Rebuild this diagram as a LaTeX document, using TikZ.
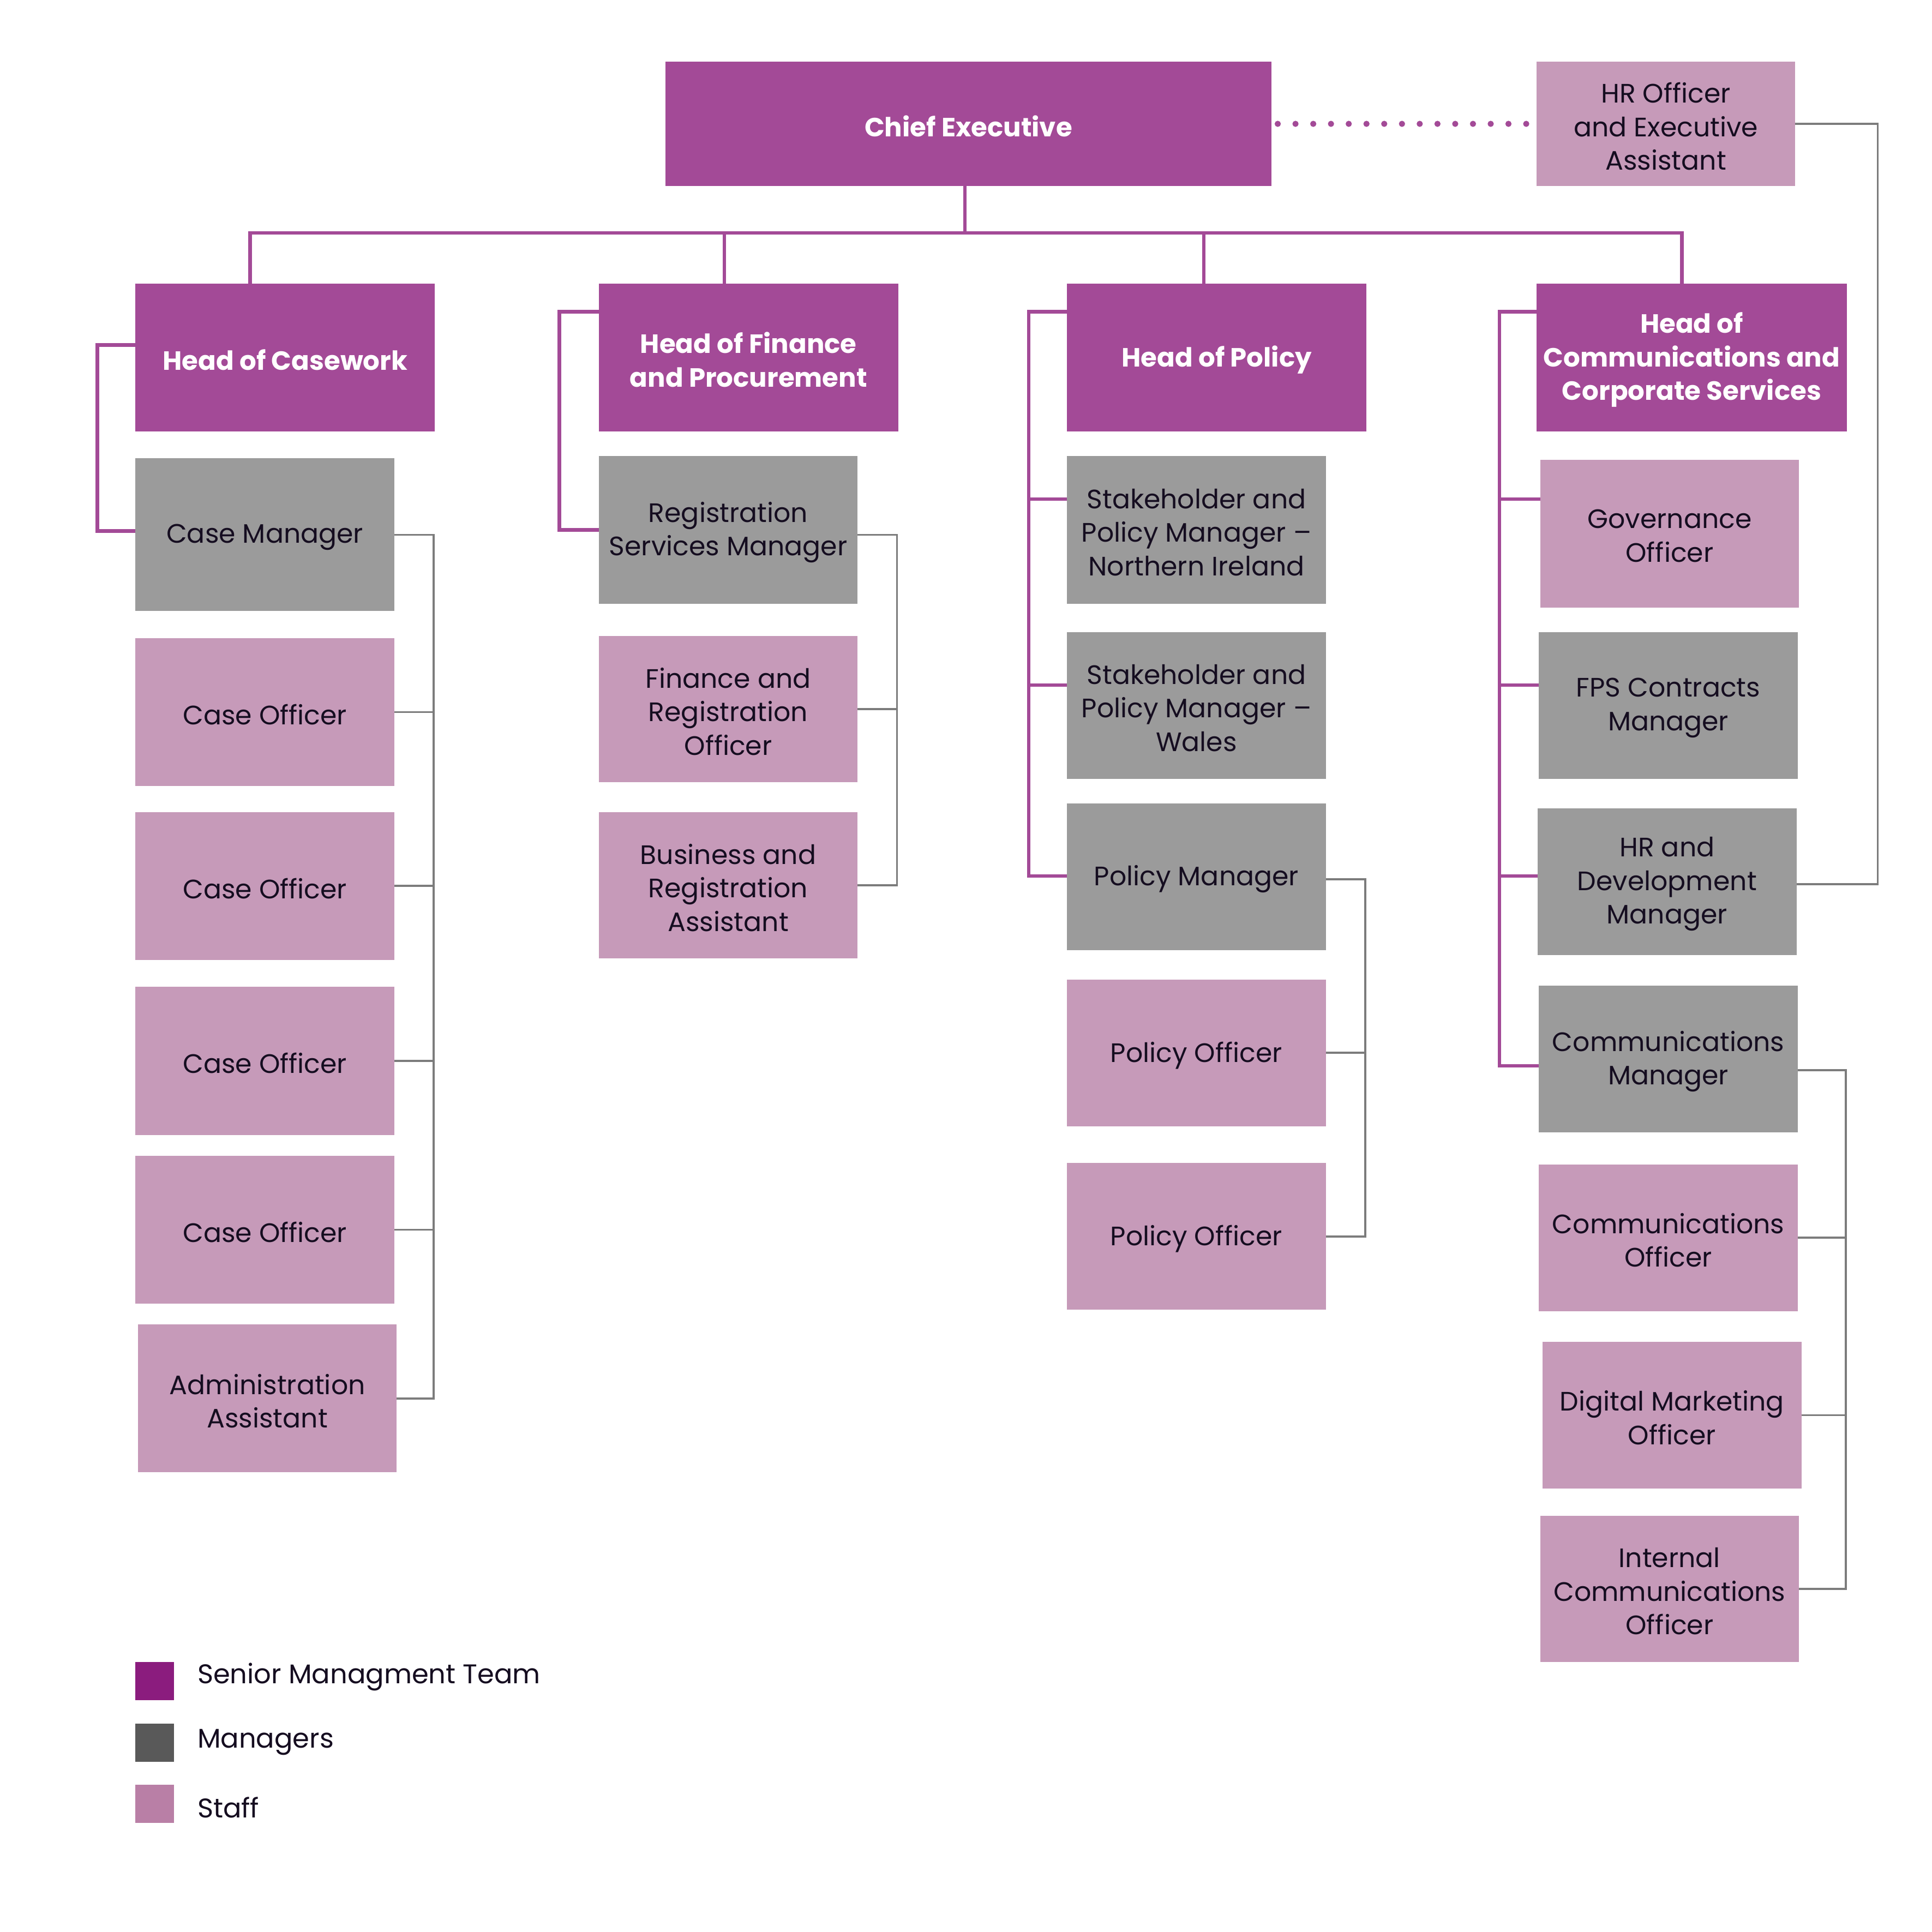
\documentclass[tikz,border=0pt]{standalone}
\usepackage{fontspec}
\setmainfont{Poppins}
\usetikzlibrary{calc}
\definecolor{smtfill}{HTML}{A34A97}
\definecolor{mgrfill}{HTML}{9B9B9B}
\definecolor{stafffill}{HTML}{C69AB9}
\definecolor{txtdark}{HTML}{150D20}
\definecolor{legsmt}{HTML}{8B1C7E}
\definecolor{legmgr}{HTML}{595959}
\definecolor{legstaff}{HTML}{B97FA6}
\definecolor{plinec}{HTML}{A34A97}
\definecolor{glinec}{HTML}{7C7C7C}
\newcommand{\orgbox}[7]{%
  \pgfmathsetmacro{\obcx}{(#3+#5)/2}%
  \pgfmathsetmacro{\obcy}{(#4+#6)/2}%
  \pgfmathsetmacro{\obw}{(#5-#3)*0.025}%
  \pgfmathsetmacro{\obh}{(#6-#4)*0.025}%
  \node[#2, minimum width=\obw cm, minimum height=\obh cm] (#1) at (\obcx,\obcy) {};
  \node[#2txt] (#1t) at ($(#1.center)+(0,2)$) {#7};}
\begin{document}
\begin{tikzpicture}[x=0.025cm,y=-0.025cm,
  basebox/.style={rectangle, inner sep=0pt, outer sep=0pt},
  basetxt/.style={inner sep=0pt, align=center},
  smtbox/.style={basebox, fill=smtfill},
  mgrbox/.style={basebox, fill=mgrfill},
  staffbox/.style={basebox, fill=stafffill},
  smtboxtxt/.style={basetxt, text=white, font=\fontsize{15.2}{19.4}\selectfont\bfseries},
  mgrboxtxt/.style={basetxt, text=txtdark, font=\fontsize{15.4}{19.4}\selectfont},
  staffboxtxt/.style={basetxt, text=txtdark, font=\fontsize{15.4}{19.4}\selectfont},
  pline/.style={draw=plinec, line width=0.07cm},
  gline/.style={draw=glinec, line width=0.04cm},
  dotline/.style={draw=plinec, line width=0.125cm, line cap=round, dash pattern=on 0pt off 0.36cm},
  legsq/.style={rectangle, inner sep=0pt, minimum width=0.775cm, minimum height=0.775cm},
  legtxt/.style={anchor=west, inner sep=0pt, text=txtdark, font=\fontsize{15.6}{19.4}\selectfont}]
\useasboundingbox (0,0) rectangle (1568,1568);
\fill[white] (0,0) rectangle (1568,1568);

% top
\orgbox{ce}{smtbox}{540}{50}{1032}{151}{Chief Executive}
\orgbox{hr}{staffbox}{1247}{50}{1457}{151}{HR Officer\\and Executive\\Assistant}
% heads
\orgbox{hcw}{smtbox}{110}{230}{353}{350}{Head of Casework}
\orgbox{hfin}{smtbox}{486}{230}{729}{350}{Head of Finance\\and Procurement}
\orgbox{hpol}{smtbox}{866}{230}{1109}{350}{Head of Policy}
\orgbox{hcom}{smtbox}{1247}{230}{1499}{350}{Head of\\Communications and\\Corporate Services}
% casework
\orgbox{cm}{mgrbox}{110}{372}{320}{496}{Case Manager}
\orgbox{co1}{staffbox}{110}{518}{320}{638}{Case Officer}
\orgbox{co2}{staffbox}{110}{659}{320}{779}{Case Officer}
\orgbox{co3}{staffbox}{110}{801}{320}{921}{Case Officer}
\orgbox{co4}{staffbox}{110}{938}{320}{1058}{Case Officer}
\orgbox{adm}{staffbox}{112}{1075}{322}{1195}{Administration\\Assistant}
% finance
\orgbox{rsm}{mgrbox}{486}{370}{696}{490}{Registration\\Services Manager}
\orgbox{fro}{staffbox}{486}{516}{696}{635}{Finance and\\Registration\\Officer}
\orgbox{bra}{staffbox}{486}{659}{696}{778}{Business and\\Registration\\Assistant}
% policy
\orgbox{spni}{mgrbox}{866}{370}{1076}{490}{Stakeholder and\\Policy Manager –\\Northern Ireland}
\orgbox{spw}{mgrbox}{866}{513}{1076}{632}{Stakeholder and\\Policy Manager –\\Wales}
\orgbox{pm}{mgrbox}{866}{652}{1076}{771}{Policy Manager}
\orgbox{po1}{staffbox}{866}{795}{1076}{914}{Policy Officer}
\orgbox{po2}{staffbox}{866}{944}{1076}{1063}{Policy Officer}
% comms
\orgbox{gov}{staffbox}{1250}{373}{1460}{493}{Governance\\Officer}
\orgbox{fps}{mgrbox}{1249}{513}{1459}{632}{FPS Contracts\\Manager}
\orgbox{hrd}{mgrbox}{1248}{656}{1458}{775}{HR and\\Development\\Manager}
\orgbox{cmm}{mgrbox}{1249}{800}{1459}{919}{Communications\\Manager}
\orgbox{cmo}{staffbox}{1249}{945}{1459}{1064}{Communications\\Officer}
\orgbox{dmo}{staffbox}{1252}{1089}{1462}{1208}{Digital Marketing\\Officer}
\orgbox{ico}{staffbox}{1250}{1230}{1460}{1349}{Internal\\Communications\\Officer}

% top connectors
\draw[pline] ($(ce.south)+(-3,0)$) -- ++(0,38);
\draw[pline] ($(hcw.north)+(-28.5,0)$) -- ++(0,-41) -| ($(hcom.north)+(-8,0)$);
\draw[pline] ($(hfin.north)+(-19.5,0)$) -- ++(0,-41);
\draw[pline] ($(hpol.north)+(-10.5,0)$) -- ++(0,-41);
\draw[dotline] ($(ce.east)+(5,0)$) -- (hr.west);

% purple side connectors
\draw[pline] ($(hcw.north west)+(0,50)$) -- ++(-31,0) |- ($(cm.west)+(0,-3)$);
\draw[pline] ($(hfin.north west)+(0,23)$) -- ++(-32,0) |- (rsm.west);
\draw[pline] ($(hpol.north west)+(0,23)$) -- ++(-31,0) |- ($(pm.north west)+(0,59)$);
\draw[pline] ($(spni.north west)+(0,35)$) -- ++(-31,0);
\draw[pline] ($(spw.north west)+(0,43)$) -- ++(-31,0);
\draw[pline] ($(hcom.north west)+(0,23)$) -- ++(-30,0) |- ($(cmm.north west)+(0,65)$);
\draw[pline] ($(gov.north west)+(0,32)$) -- ++(-33,0);
\draw[pline] ($(fps.north west)+(0,43)$) -- ++(-32,0);
\draw[pline] ($(hrd.north west)+(0,55)$) -- ++(-31,0);

% grey connectors
\draw[gline] (cm.east) -- ++(32,0) |- (adm.east);
\foreach \n in {co1,co2,co3,co4} \draw[gline] (\n.east) -- ++(32,0);
\draw[gline] ($(rsm.east)+(0,4)$) -- ++(32,0) |- (bra.east);
\draw[gline] (fro.east) -- ++(32,0);
\draw[gline] ($(pm.east)+(0,2)$) -- ++(32,0) |- (po2.east);
\draw[gline] (po1.east) -- ++(32,0);
\draw[gline] ($(cmm.east)+(0,9)$) -- ++(39,0) |- (ico.east);
\draw[gline] (cmo.east) -- ++(39,0);
\draw[gline] (dmo.east) -- ++(36,0);
\draw[gline] (hr.east) -- ++(67,0) |- ($(hrd.east)+(0,2)$);

% legend
\node[legsq, fill=legsmt] (lsq1) at (125.5,1364.5) {};
\node[legsq, fill=legmgr] (lsq2) at (125.5,1414.5) {};
\node[legsq, fill=legstaff] (lsq3) at (125.5,1464) {};
\node[legtxt] (lt1) at (160,1361) {Senior Managment Team};
\node[legtxt] (lt2) at (160,1414) {Managers};
\node[legtxt] (lt3) at (160,1467) {Staff};
\end{tikzpicture}
\end{document}
